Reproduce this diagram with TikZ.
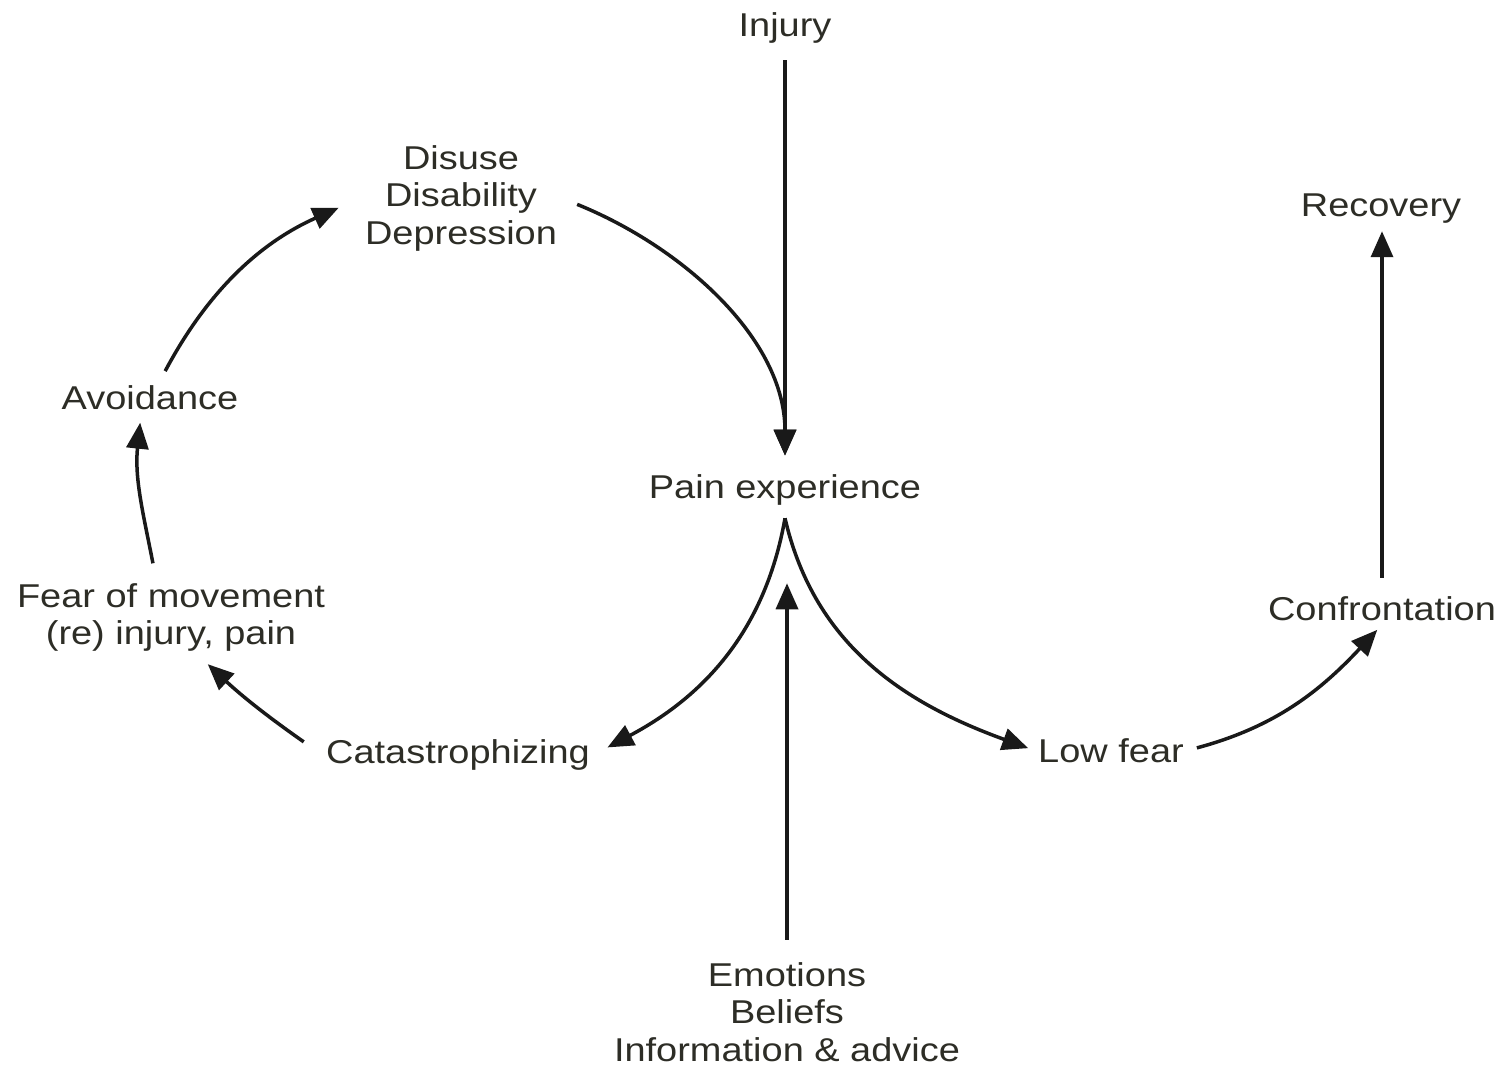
\documentclass[tikz,border=0pt]{standalone}
\usepackage{fontspec}
\setmainfont{Liberation Sans}[FakeStretch=1.15]
\usetikzlibrary{arrows.meta}
\definecolor{inkgray}{RGB}{45,45,38}

\begin{document}
\begin{tikzpicture}[x=0.5pt, y=0.5pt,
  term/.style={text=inkgray, inner sep=2pt, font=\fontsize{16.5}{18.75}\selectfont, align=center},
  flow/.style={line width=1.75pt, draw=black!90, -{Triangle[length=13pt, width=11pt]}}]
\useasboundingbox (0,0) rectangle (1503,1067);
\node[term, anchor=base] (injury) at (785,1030) {Injury};
\node[term] (disuse) at (461,869) {Disuse\\Disability\\Depression};
\node[term, anchor=base] (recovery) at (1381,850) {Recovery};
\node[term, anchor=base] (avoid) at (150,657) {Avoidance};
\node[term, anchor=base] (pain) at (785,569) {Pain experience};
\node[term] (fear) at (171,449.5) {Fear of movement\\(re) injury, pain};
\node[term, anchor=base] (catas) at (458,304) {Catastrophizing};
\node[term, anchor=base] (lowfear) at (1111,305) {Low fear};
\node[term, anchor=base] (confront) at (1382,447) {Confrontation};
\node[term] (emotions) at (787,55) {Emotions\\Beliefs\\Information \& advice};
\coordinate (cusp) at ([yshift=-4.5pt]pain.south);
\draw[flow, shorten <=6pt, shorten >=7pt] (injury.south) -- (injury.south |- pain.north);
\draw[flow, shorten <=8.5pt, shorten >=7pt] (disuse.east) to[out=-22, in=90, looseness=0.95] (pain.north);
\draw[flow, shorten <=9pt, shorten >=37pt] (emotions.north) -- (emotions.north |- pain.south);
\draw[flow, shorten >=7.5pt] (cusp) to[out=-100, in=28] (catas.east);
\draw[flow, shorten >=3pt] (cusp) to[out=-77, in=160] (lowfear.west);
\draw[flow, shorten <=11pt, shorten >=6pt] (catas.west) to[out=145, in=-43] ([xshift=14pt]fear.south);
\draw[flow, shorten <=8pt, shorten >=4pt] ([xshift=-7.5pt]fear.north) to[out=101, in=-96] ([xshift=-4.5pt]avoid.south);
\draw[flow, shorten <=6pt, shorten >=12pt] (avoid.60) to[out=62, in=-156] (disuse.west);
\draw[flow, shorten <=4.5pt, shorten >=3.5pt] (lowfear.east) to[out=15, in=-133] (confront.south);
\draw[flow, shorten <=7pt, shorten >=1.5pt] (confront.north) -- (confront.north |- recovery.south);
\end{tikzpicture}
\end{document}
